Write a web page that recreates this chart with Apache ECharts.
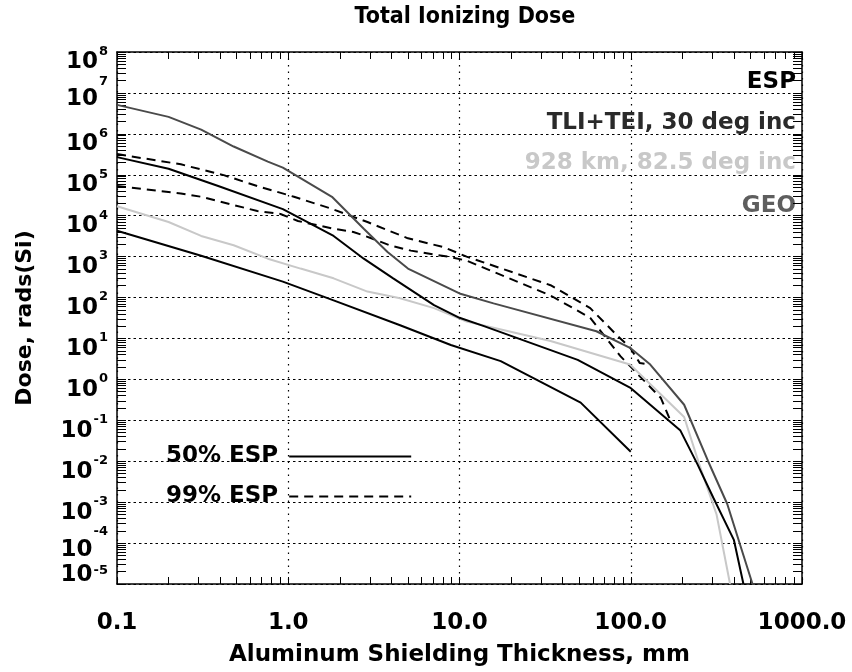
<!DOCTYPE html>
<html>
<head>
<meta charset="utf-8">
<script src="https://cdn.jsdelivr.net/npm/echarts@6/dist/echarts.min.js"></script>
<style>
  html, body { margin: 0; padding: 0; background: #fff; }
  #chart { width: 852px; height: 672px; }
</style>
</head>
<body>
<div id="chart"></div>
<script>
// values: [shielding thickness mm, dose rads(Si)]
const geoSolid = [[0.1, 5.1e6], [0.2, 2.6e6], [0.31, 1.27e6], [0.48, 4.9e5], [0.76, 2.1e5], [0.93, 1.5e5],
  [1.8, 2.9e4], [2.76, 4.8e3], [3.8, 1.3e3], [5, 510], [10, 126], [15.8, 72], [63, 15], [99, 5.9],
  [130, 2.3], [205, 0.24], [283, 0.01], [366, 9e-4], [514, 1e-5]];
const tliSolid = [[0.1, 2.7e5], [0.2, 1.4e5], [0.39, 5.3e4], [0.93, 1.45e4], [1.84, 3.2e3], [2.76, 890],
  [4.1, 295], [7.1, 65], [10, 32], [13.9, 20], [49, 3.0], [99, 0.63], [195, 0.056], [245, 8.5e-3],
  [303, 1.3e-3], [400, 1.2e-4], [455, 1e-5]];
const leoSolid = [[0.1, 1.7e4], [0.2, 7e3], [0.31, 3.2e3], [0.48, 1.9e3], [0.76, 890], [1.18, 510],
  [1.84, 295], [2.9, 140], [4.5, 96], [7.1, 55], [11, 26], [34, 8.7], [99, 2.3], [205, 0.12],
  [251, 8.5e-3], [317, 5e-4], [380, 1e-5]];
const espSolid = [[0.1, 4.3e3], [0.31, 1.05e3], [0.93, 245], [1.84, 85], [4.5, 21], [8.9, 6.9],
  [17.4, 2.8], [51, 0.27], [100, 0.017]];
const upperDashed = [[0.1, 3.2e5], [0.236, 1.8e5], [0.42, 9.8e4], [0.66, 5.3e4], [1.08, 2.9e4],
  [1.77, 1.5e4], [2.9, 7e3], [5, 2.8e3], [8.1, 1.7e3], [11, 1e3], [34, 200], [58, 55], [83, 12],
  [99, 6], [113, 2.5], [130, 2.3]];
const lowerDashed = [[0.1, 5.3e4], [0.236, 3.5e4], [0.31, 2.9e4], [0.66, 1.3e4], [0.9, 1.1e4],
  [1.14, 7.4e3], [1.84, 4.8e3], [2.4, 4e3], [3.0, 2.9e3], [3.9, 1.9e3], [5.2, 1.4e3], [8.5, 1e3],
  [11, 800], [34, 112], [58, 32], [87, 3.7], [150, 0.35], [170, 0.1]];

const xDecades = [0.1, 1, 10, 100, 1000];
const yDecades = [1e-5, 1e-4, 1e-3, 1e-2, 1e-1, 1, 10, 1e2, 1e3, 1e4, 1e5, 1e6, 1e7, 1e8];
const envLabels = ['ESP', 'TLI+TEI, 30 deg inc', '928 km, 82.5 deg inc', 'GEO'];
const envColors = ['#000000', '#2a2a2a', '#c8c8c8', '#5e5e5e'];
const legendNames = ['50% ESP', '99% ESP'];

const FONT = 'DejaVu Sans';
const TITLE_FONT = "'DejaVu Sans Condensed', 'Liberation Sans Narrow', sans-serif";

// 1..9 times every decade, for the inside tick marks
const withMinors = (decades) => {
  const out = [];
  decades.forEach((d, i) => {
    if (i === decades.length - 1) { out.push(d); return; }
    for (let k = 1; k <= 9; k++) out.push(+(k * d).toPrecision(3));
  });
  return out;
};
const xTicks = withMinors(xDecades);
const yTicks = withMinors(yDecades);

const chart = echarts.init(document.getElementById('chart'));

const tickOnlyX = (pos) => ({
  type: 'log', min: 0.1, max: 1000, position: pos,
  axisLine: { show: pos === 'top', lineStyle: { color: '#000', width: 1.5 } },
  axisTick: { show: true, inside: true, length: 7, customValues: xTicks, lineStyle: { color: '#000', width: 1 } },
  axisLabel: { show: false },
  splitLine: { show: false }
});
const tickOnlyY = (pos) => ({
  type: 'log', min: 1e-5, max: 1e8, position: pos,
  axisLine: { show: pos === 'right', lineStyle: { color: '#000', width: 1.5 } },
  axisTick: { show: true, inside: true, length: 9, customValues: yTicks, lineStyle: { color: '#000', width: 1 } },
  axisLabel: { show: false },
  splitLine: { show: false }
});

const line = (data, color, dashed) => ({
  type: 'line', data: data, symbol: 'none', smooth: false, silent: true,
  xAxisIndex: 0, yAxisIndex: 0,
  lineStyle: { color: color, width: 2, type: dashed ? [9, 6] : 'solid' },
  itemStyle: { color: color }
});

// the scan's exponent labels sit a bit low, except where they were squeezed
const yLabel = (v) => {
  const e = Math.round(Math.log10(v));
  if (e === 7 || e === -4) return '{b2|10}{s2|' + e + '}';
  if (e === -5) return '{e| }{b3|10}{s3|' + e + '}';
  return '{b|10}{s|' + e + '}';
};
const base = { fontFamily: FONT, fontWeight: 'bold', fontSize: 23, color: '#000' };
const sup = { fontFamily: FONT, fontWeight: 'bold', fontSize: 13, color: '#000' };

const option = {
  backgroundColor: '#fff',
  animation: false,
  title: {
    text: 'Total Ionizing Dose',
    left: 460, top: 1, textAlign: 'center',
    textStyle: { fontFamily: TITLE_FONT, fontWeight: 'bold', fontSize: 23, color: '#000' }
  },
  grid: { left: 117, right: 50, top: 52, bottom: 85 },
  legend: {
    data: legendNames,
    orient: 'vertical', left: 161, top: 440, align: 'right',
    itemWidth: 122, itemHeight: 14, itemGap: 17,
    itemStyle: { opacity: 0 },
    textStyle: { fontFamily: FONT, fontWeight: 'bold', fontSize: 23, color: '#000', padding: [0, 6, 0, 0] }
  },
  xAxis: [
    {
      type: 'log', min: 0.1, max: 1000, interval: 1, position: 'bottom',
      name: 'Aluminum Shielding Thickness, mm', nameLocation: 'middle', nameGap: 60,
      nameTextStyle: { fontFamily: FONT, fontWeight: 'bold', fontSize: 23, color: '#000' },
      axisLine: { show: true, lineStyle: { color: '#000', width: 1.5 } },
      axisTick: { show: false },
      axisLabel: {
        margin: 28, color: '#000', fontFamily: FONT, fontWeight: 'bold', fontSize: 23,
        showMinLabel: true, showMaxLabel: true,
        formatter: (v) => (+v).toFixed(1)
      },
      splitLine: { show: true, lineStyle: { color: '#000', width: 1.2, type: [1.5, 5] } }
    },
    tickOnlyX('bottom'),
    tickOnlyX('top')
  ],
  yAxis: [
    {
      type: 'log', min: 1e-5, max: 1e8, interval: 1, position: 'left',
      name: 'Dose, rads(Si)', nameLocation: 'middle', nameGap: 81, nameRotate: 90,
      nameTextStyle: { fontFamily: FONT, fontWeight: 'bold', fontSize: 22, color: '#000' },
      axisLine: { show: true, lineStyle: { color: '#000', width: 1.5 } },
      axisTick: { show: false },
      axisLabel: {
        margin: 9, showMinLabel: true, showMaxLabel: true,
        formatter: yLabel,
        rich: {
          b: Object.assign({ lineHeight: 44, verticalAlign: 'bottom' }, base),
          s: Object.assign({ lineHeight: 14, verticalAlign: 'top', padding: [15, 0, 0, 1] }, sup),
          b2: Object.assign({ lineHeight: 36, verticalAlign: 'bottom' }, base),
          s2: Object.assign({ lineHeight: 14, verticalAlign: 'top', padding: [0, 0, 0, 1] }, sup),
          e: { fontSize: 1, lineHeight: 40, verticalAlign: 'top' },
          b3: Object.assign({ lineHeight: 24, verticalAlign: 'top' }, base),
          s3: Object.assign({ lineHeight: 14, verticalAlign: 'top', padding: [0, 0, 0, 1] }, sup)
        }
      },
      splitLine: { show: true, lineStyle: { color: '#000', width: 1, type: [2.5, 3] } }
    },
    tickOnlyY('left'),
    tickOnlyY('right')
  ],
  graphic: envLabels.map((t, i) => ({
    type: 'text', x: 796, y: 82 + [0, 41, 81, 124][i],
    style: { text: t, align: 'right', verticalAlign: 'middle', fill: envColors[i],
      fontFamily: FONT, fontWeight: 'bold', fontSize: 23 }
  })),
  series: [
    line(upperDashed, '#000', true),
    line(lowerDashed, '#000', true),
    line(leoSolid, envColors[2], false),
    line(geoSolid, '#4a4a4a', false),
    line(tliSolid, '#000', false),
    line(espSolid, '#000', false),
    Object.assign(line([], '#000', false), { name: legendNames[0] }),
    Object.assign(line([], '#000', true), { name: legendNames[1] })
  ]
};

chart.setOption(option);
</script>
</body>
</html>
